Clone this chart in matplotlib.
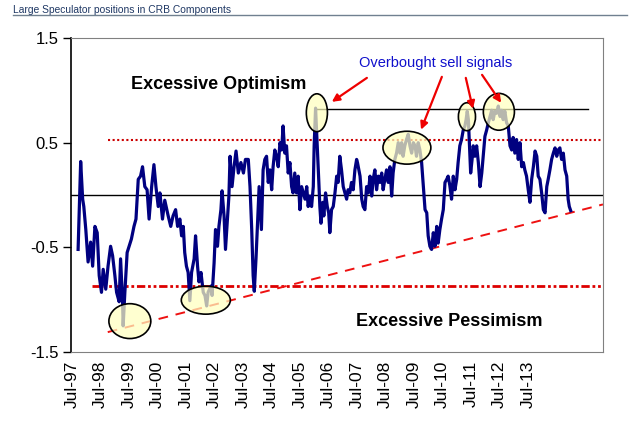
import matplotlib
matplotlib.use("Agg")
import matplotlib.pyplot as plt
from matplotlib.patches import Ellipse
from matplotlib.lines import Line2D

plt.rcParams['font.family'] = ['Liberation Sans', 'DejaVu Sans']

# ---- data (decimal year, normalised speculator position) ----
years = [1997.72, 1997.81, 1997.88, 1997.92, 1997.99, 1998.07, 1998.16, 1998.23, 1998.31, 1998.39,
         1998.46, 1998.54, 1998.60, 1998.69, 1998.77, 1998.86, 1998.93, 1999.01, 1999.07, 1999.16,
         1999.21, 1999.28, 1999.30, 1999.36, 1999.44, 1999.51, 1999.59, 1999.68, 1999.75, 1999.83,
         1999.91, 1999.98, 2000.06, 2000.14, 2000.21, 2000.30, 2000.38, 2000.45, 2000.53, 2000.59,
         2000.68, 2000.76, 2000.88, 2000.97, 2001.05, 2001.14, 2001.21, 2001.29, 2001.35, 2001.41,
         2001.46, 2001.52, 2001.58, 2001.64, 2001.70, 2001.79, 2001.84, 2001.91, 2001.96, 2002.03,
         2002.11, 2002.17, 2002.23, 2002.28, 2002.38, 2002.42, 2002.49, 2002.54, 2002.61, 2002.66,
         2002.73, 2002.77, 2002.84, 2002.89, 2002.96, 2003.01, 2003.05, 2003.12, 2003.19, 2003.26,
         2003.34, 2003.43, 2003.52, 2003.59, 2003.69, 2003.75, 2003.81, 2003.86, 2003.90, 2003.96,
         2004.02, 2004.07, 2004.15, 2004.21, 2004.27, 2004.33, 2004.39, 2004.45, 2004.51, 2004.56,
         2004.62, 2004.68, 2004.74, 2004.80, 2004.86, 2004.91, 2004.97, 2005.03, 2005.09, 2005.15,
         2005.21, 2005.26, 2005.32, 2005.38, 2005.44, 2005.50, 2005.56, 2005.62, 2005.68, 2005.74,
         2005.79, 2005.85, 2005.91, 2005.97, 2006.00, 2006.05, 2006.11, 2006.16, 2006.20, 2006.24,
         2006.30, 2006.34, 2006.40, 2006.46, 2006.51, 2006.55, 2006.61, 2006.67, 2006.73, 2006.79,
         2006.84, 2006.90, 2006.96, 2007.02, 2007.08, 2007.14, 2007.19, 2007.25, 2007.31, 2007.37,
         2007.43, 2007.49, 2007.52, 2007.61, 2007.67, 2007.72, 2007.78, 2007.84, 2007.90, 2007.96,
         2008.02, 2008.07, 2008.13, 2008.19, 2008.25, 2008.31, 2008.37, 2008.42, 2008.48, 2008.54,
         2008.60, 2008.66, 2008.72, 2008.77, 2008.83, 2008.89, 2008.95, 2009.01, 2009.07, 2009.12,
         2009.18, 2009.24, 2009.30, 2009.36, 2009.42, 2009.48, 2009.54, 2009.59, 2009.65, 2009.71,
         2009.77, 2009.83, 2009.89, 2009.95, 2010.00, 2010.06, 2010.12, 2010.18, 2010.24, 2010.30,
         2010.35, 2010.41, 2010.47, 2010.53, 2010.59, 2010.65, 2010.70, 2010.76, 2010.82, 2010.88,
         2010.94, 2011.00, 2011.05, 2011.11, 2011.17, 2011.23, 2011.29, 2011.33, 2011.37, 2011.41,
         2011.44, 2011.49, 2011.54, 2011.58, 2011.64, 2011.70, 2011.76, 2011.82, 2011.88, 2011.93,
         2011.99, 2012.05, 2012.11, 2012.17, 2012.23, 2012.28, 2012.34, 2012.40, 2012.46, 2012.52,
         2012.58, 2012.63, 2012.69, 2012.75, 2012.81, 2012.87, 2012.93, 2012.98, 2013.04, 2013.10,
         2013.16, 2013.22, 2013.28, 2013.34, 2013.39, 2013.45, 2013.51, 2013.57, 2013.63, 2013.69,
         2013.75, 2013.81, 2013.86, 2013.92, 2013.98, 2014.04, 2014.10, 2014.16, 2014.21, 2014.27,
         2014.33, 2014.39, 2014.45, 2014.51, 2014.56, 2014.62, 2014.68, 2014.74, 2014.80, 2014.86,
         2014.91, 2014.95, 2015.00]
values = [-0.52, 0.32, -0.04, -0.11, -0.33, -0.64, -0.45, -0.68, -0.30, -0.36,
          -0.77, -0.93, -0.71, -0.90, -0.68, -0.49, -0.58, -0.77, -0.93, -1.02,
          -0.61, -1.02, -1.25, -0.93, -0.55, -0.49, -0.42, -0.30, -0.23, 0.15,
          0.18, 0.27, 0.08, 0.05, -0.23, 0.08, 0.29, 0.08, -0.11, 0.02,
          -0.23, -0.05, -0.20, -0.30, -0.20, -0.14, -0.30, -0.23, -0.39, -0.30,
          -0.55, -0.68, -0.74, -1.01, -0.74, -0.61, -0.39, -0.68, -0.83, -0.74,
          -0.93, -0.96, -1.06, -0.93, -0.87, -0.96, -0.65, -0.33, -0.49, -0.30,
          -0.14, 0.04, -0.20, -0.52, -0.23, -0.01, 0.37, 0.08, 0.27, 0.42,
          0.21, 0.31, 0.21, 0.34, 0.34, 0.08, -0.33, -0.77, -0.92, -0.61,
          -0.23, 0.08, -0.33, 0.24, 0.34, 0.37, 0.12, 0.24, 0.05, 0.27,
          0.43, 0.37, 0.27, 0.50, 0.43, 0.66, 0.40, 0.47, 0.21, 0.31,
          0.08, 0.02, 0.21, 0.02, 0.18, -0.14, 0.08, 0.02, -0.04, 0.08,
          -0.11, -0.01, -0.11, 0.08, 0.47, 0.83, 0.47, 0.15, -0.11, -0.27,
          -0.07, -0.20, 0.02, -0.11, -0.17, -0.36, -0.14, -0.11, 0.02, 0.18,
          0.12, 0.37, 0.24, 0.08, 0.02, -0.04, 0.05, 0.02, 0.12, 0.05,
          0.24, 0.34, 0.31, 0.18, -0.04, -0.11, -0.14, 0.08, 0.02, 0.18,
          -0.01, 0.15, 0.24, 0.05, 0.18, 0.12, 0.21, 0.05, 0.15, 0.24,
          0.12, 0.27, -0.01, 0.21, 0.34, 0.40, 0.50, 0.40, 0.50, 0.37,
          0.47, 0.53, 0.58, 0.47, 0.40, 0.50, 0.47, 0.37, 0.50, 0.43,
          0.31, 0.08, -0.14, -0.17, -0.39, -0.49, -0.52, -0.36, -0.49, -0.30,
          -0.46, -0.33, -0.23, -0.14, 0.12, 0.15, 0.18, 0.09, -0.04, 0.18,
          0.05, 0.15, 0.31, 0.47, 0.53, 0.62, 0.66, 0.72, 0.80, 0.72,
          0.53, 0.21, 0.34, 0.47, 0.37, 0.47, 0.31, 0.08, 0.21, 0.37,
          0.56, 0.62, 0.69, 0.75, 0.81, 0.72, 0.80, 0.78, 0.85, 0.75,
          0.81, 0.72, 0.80, 0.69, 0.66, 0.47, 0.43, 0.55, 0.40, 0.53,
          0.34, 0.50, 0.27, 0.31, 0.24, 0.18, 0.05, -0.07, 0.15, 0.27,
          0.42, 0.37, 0.18, 0.15, 0.02, -0.14, -0.17, 0.08, 0.15, 0.24,
          0.34, 0.40, 0.45, 0.37, 0.43, 0.45, 0.34, 0.40, 0.24, 0.18,
          -0.04, -0.11, -0.15]

tick_years = [1997.5 + k for k in range(17)]
tick_labels = ["Jul-97", "Jul-98", "Jul-99", "Jul-00", "Jul-01", "Jul-02", "Jul-03", "Jul-04",
               "Jul-05", "Jul-06", "Jul-07", "Jul-08", "Jul-09", "Jul-10", "Jul-11", "Jul-12", "Jul-13"]
y_ticks = [-1.5, -0.5, 0.5, 1.5]

# reference levels
overbought_level = 0.82
upper_level = 0.53
lower_level = -0.87
trend_start = (1998.76, -1.31)
trend_end = (2016.13, -0.09)

# ---- figure ----
fig = plt.figure(figsize=(6.36, 4.29), dpi=100)
ax = fig.add_axes([0.1116, 0.1795, 0.8364, 0.7319])
ax.set_xlim(1997.47, 2016.13)
ax.set_ylim(-1.5, 1.5)

ax.axhline(0, color='black', lw=1.0, zorder=1)
ax.plot([2006.03, 2015.6], [overbought_level, overbought_level], color='black', lw=1.0, zorder=1)
ax.plot([1998.76, 2016.13], [upper_level, upper_level], color='#CC0000', lw=1.5,
        linestyle=(0, (1, 1.2)), zorder=1)
ax.plot([1998.2, 2016.13], [lower_level, lower_level], color='#DD0000', lw=2.0,
        linestyle=(0, (3, 1, 1, 1, 1, 1)), zorder=1)
ax.plot([trend_start[0], trend_end[0]], [trend_start[1], trend_end[1]], color='#EE1111', lw=1.4,
        linestyle=(0, (5, 4)), zorder=1)

ax.plot(years, values, color='#000080', lw=2.3, zorder=2)

# ellipses highlighting extremes
ellipses = [(1999.535, -1.205, 1.47, 0.333), (2002.20, -1.005, 1.72, 0.267),
            (2006.096, 0.786, 0.74, 0.362), (2009.254, 0.452, 1.68, 0.314),
            (2011.36, 0.748, 0.60, 0.267), (2012.48, 0.795, 1.09, 0.352)]
for cx, cy, w, h in ellipses:
    ax.add_patch(Ellipse((cx, cy), w, h, facecolor=(1, 1, 0.75, 0.72), edgecolor='black',
                         lw=1.2, zorder=3))

# arrows
arrow_specs = [((2007.85, 1.119), (2006.62, 0.890)), ((2010.48, 1.129), (2009.75, 0.624)),
               ((2011.32, 1.119), (2011.57, 0.824)), ((2011.89, 1.148), (2012.56, 0.881))]
for start, end in arrow_specs:
    ax.annotate('', xy=end, xytext=start,
                arrowprops=dict(arrowstyle='-|>', color='#EE0000', lw=1.6, mutation_scale=11,
                                shrinkA=0, shrinkB=0), zorder=4)

ax.text(2002.66, 1.052, "Excessive Optimism", ha='center', va='center', fontsize=13,
        fontweight='bold', color='black')
ax.text(2010.73, -1.205, "Excessive Pessimism", ha='center', va='center', fontsize=13,
        fontweight='bold', color='black')
ax.text(2010.27, 1.262, "Overbought sell signals", ha='center', va='center', fontsize=10.5,
        color='#1010CC')

ax.set_yticks(y_ticks)
ax.set_yticklabels(["-1.5", "-0.5", "0.5", "1.5"], fontsize=12)
ax.set_xticks(tick_years)
ax.set_xticklabels(tick_labels, rotation=90, fontsize=12.5)
ax.tick_params(axis='x', length=0, pad=6)
ax.tick_params(axis='y', length=6, width=1, direction='out', pad=3)

for side in ['top', 'right', 'bottom']:
    ax.spines[side].set_color('#808080')
ax.spines['left'].set_color('black')
ax.spines['left'].set_linewidth(1.2)

fig.text(0.021, 0.988, "Large Speculator positions in CRB Components", ha='left', va='top',
         fontsize=7.4, color='#1F3864', family=['Liberation Sans Narrow', 'Liberation Sans'])
fig.add_artist(Line2D([0.02, 0.986], [0.966, 0.966], color='#708090', lw=1.0))

fig.savefig("out.png", dpi=100)
